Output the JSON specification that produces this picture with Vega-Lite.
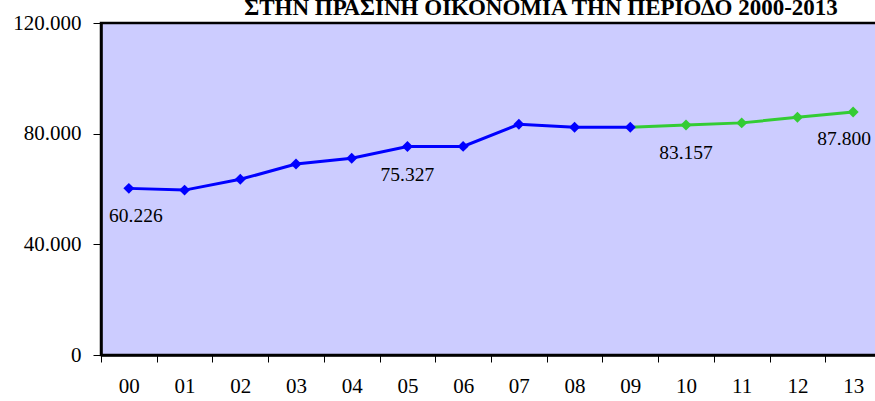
{
  "$schema": "https://vega.github.io/schema/vega-lite/v6.json",
  "autosize": {"type": "none"},
  "padding": {"left": 101, "top": 23, "right": 0, "bottom": 46},
  "width": 780,
  "height": 332,
  "background": "white",
  "config": {
    "locale": {"number": {"decimal": ",", "thousands": ".", "grouping": [3], "currency": ["", " €"]}},
    "font": "Liberation Serif",
    "view": {"fill": "#CCCCFF", "stroke": "black", "strokeWidth": 2.5}
  },
  "title": {
    "text": "ΣΤΗΝ ΠΡΑΣΙΝΗ ΟΙΚΟΝΟΜΙΑ ΤΗΝ ΠΕΡΙΟΔΟ 2000-2013",
    "font": "Liberation Serif",
    "fontSize": 23,
    "fontWeight": "bold",
    "color": "black",
    "anchor": "middle",
    "frame": "group",
    "dx": 50,
    "dy": 14,
    "offset": 6
  },
  "data": {
    "values": [
      {"year": "00", "value": 60226},
      {"year": "01", "value": 59600},
      {"year": "02", "value": 63500},
      {"year": "03", "value": 69000},
      {"year": "04", "value": 71100},
      {"year": "05", "value": 75327},
      {"year": "06", "value": 75400},
      {"year": "07", "value": 83400},
      {"year": "08", "value": 82300},
      {"year": "09", "value": 82300},
      {"year": "10", "value": 83157},
      {"year": "11", "value": 83900},
      {"year": "12", "value": 85900},
      {"year": "13", "value": 87800}
    ]
  },
  "encoding": {
    "x": {
      "field": "year",
      "type": "ordinal",
      "sort": null,
      "scale": {"type": "band", "paddingInner": 0, "paddingOuter": 0, "domain": ["00","01","02","03","04","05","06","07","08","09","10","11","12","13"]},
      "axis": {
        "title": null,
        "labelAngle": 0,
        "labelFont": "Liberation Serif",
        "labelFontSize": 21,
        "labelColor": "black",
        "labelPadding": 13,
        "tickBand": "extent",
        "tickSize": 7,
        "tickColor": "black",
        "domainColor": "black",
        "domainWidth": 2.5
      }
    },
    "y": {
      "field": "value",
      "type": "quantitative",
      "scale": {"domain": [0, 120000]},
      "axis": {
        "title": null,
        "values": [0, 40000, 80000, 120000],
        "format": ",.0f",
        "grid": false,
        "labelFont": "Liberation Serif",
        "labelFontSize": 21,
        "labelColor": "black",
        "labelPadding": 12,
        "tickSize": 8,
        "tickColor": "black",
        "domainColor": "black",
        "domainWidth": 2.5
      }
    }
  },
  "layer": [
    {
      "transform": [{"filter": "toNumber(datum.year) >= 9"}],
      "mark": {"type": "line", "color": "#33CC33", "strokeWidth": 3}
    },
    {
      "transform": [{"filter": "toNumber(datum.year) <= 9"}],
      "mark": {"type": "line", "color": "#0000FF", "strokeWidth": 3}
    },
    {
      "mark": {"type": "point", "shape": "diamond", "filled": true, "size": 120, "opacity": 1},
      "encoding": {
        "color": {
          "condition": {"test": "toNumber(datum.year) <= 9", "value": "#0000FF"},
          "value": "#33CC33"
        }
      }
    },
    {
      "transform": [{"filter": "datum.year == '00'"}],
      "mark": {"type": "text", "fontSize": 19.5, "font": "Liberation Serif", "color": "black", "dx": 7, "dy": 28},
      "encoding": {"text": {"field": "value", "type": "quantitative", "format": ",.0f"}}
    },
    {
      "transform": [{"filter": "datum.year == '05' || datum.year == '10'"}],
      "mark": {"type": "text", "fontSize": 19.5, "font": "Liberation Serif", "color": "black", "dy": 28},
      "encoding": {"text": {"field": "value", "type": "quantitative", "format": ",.0f"}}
    },
    {
      "transform": [{"filter": "datum.year == '13'"}],
      "mark": {"type": "text", "fontSize": 19.5, "font": "Liberation Serif", "color": "black", "dx": -9, "dy": 27},
      "encoding": {"text": {"field": "value", "type": "quantitative", "format": ",.0f"}}
    }
  ]
}
